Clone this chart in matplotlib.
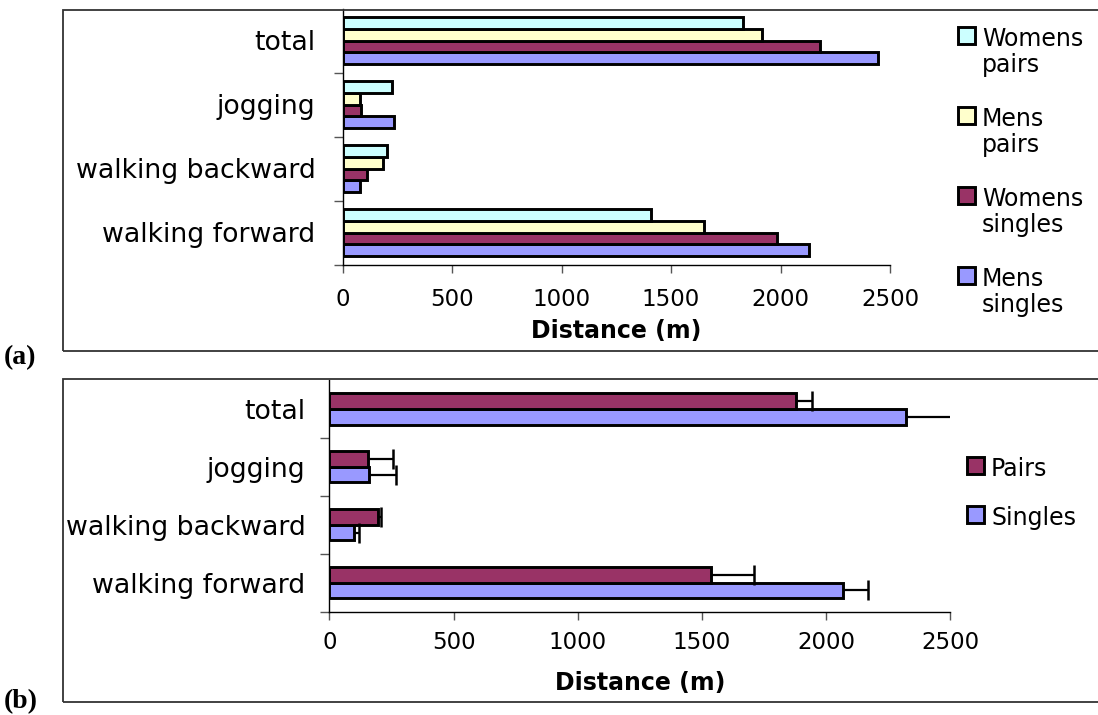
import matplotlib
matplotlib.use('Agg')
import matplotlib.pyplot as plt
import numpy as np
from matplotlib.patches import Rectangle

# categories bottom -> top
CATEGORIES = ['walking forward', 'walking backward', 'jogging', 'total']

# panel (a): distance by group
MENS_SINGLES = [2131, 82, 236, 2444]
WOMENS_SINGLES = [1986, 112, 86, 2180]
MENS_PAIRS = [1652, 187, 80, 1916]
WOMENS_PAIRS = [1408, 204, 226, 1828]

# panel (b): singles vs pairs with (upper) error bars
SINGLES = [2067, 98, 161, 2321]
SINGLES_ERR = [102, 20, 107, 185]
PAIRS = [1535, 198, 156, 1880]
PAIRS_ERR = [173, 12, 101, 62]

X_TICKS = [0, 500, 1000, 1500, 2000, 2500]

W, H = 1098, 715
BLUE = '#9999FF'
PLUM = '#993366'
CREAM = '#FFFFCC'
CYAN = '#CCFFFF'


def px_rect(left, top, right, bottom):
    return [left / W, 1 - bottom / H, (right - left) / W, (bottom - top) / H]


def style_axis(ax, label_pad, label_y, x_pad):
    y = np.arange(len(CATEGORIES))
    ax.set_ylim(-0.5, len(CATEGORIES) - 0.5)
    ax.set_xlim(0, 2500)
    ax.set_yticks(y - 0.5)
    ax.set_yticklabels([])
    ax.set_yticks(y, minor=True)
    ax.set_yticklabels(CATEGORIES, minor=True)
    ax.tick_params(axis='y', which='major', length=6.5, width=1, color='#555555')
    ax.tick_params(axis='y', which='minor', length=0, pad=label_pad, labelsize=19.3)
    ax.set_xticks(X_TICKS)
    ax.tick_params(axis='x', length=6, width=1, color='#555555', pad=x_pad, labelsize=16.5)
    for side in ['top', 'right']:
        ax.spines[side].set_visible(False)
    for side in ['left', 'bottom']:
        ax.spines[side].set_linewidth(1)
    ax.set_xlabel('Distance (m)', fontsize=17, fontweight='bold', va='center')
    ax.xaxis.set_label_coords(0.5, label_y)


def top_align_legend(leg, linespacing):
    for t in leg.get_texts():
        t.set_linespacing(linespacing)
    for col in leg._legend_handle_box.get_children():
        for row in col.get_children():
            row.align = 'top'


def plus_errorbar(ax, vals, ypos, errs):
    ends = np.array(vals) + np.array(errs)
    ax.hlines(ypos, vals, ends, color='black', linewidth=1.6, zorder=3)
    ax.plot(ends, ypos, linestyle='none', marker='|', markersize=14,
            markeredgewidth=1.8, color='black', zorder=3)


fig = plt.figure(figsize=(W / 100, H / 100), dpi=100)

# panel frames
for top, bottom in [(10, 351), (379, 702)]:
    fig.add_artist(Rectangle((63 / W, 1 - bottom / H), 1.2, (bottom - top) / H,
                             transform=fig.transFigure, fill=False,
                             edgecolor='#333333', linewidth=1.3))

# (a)
ax1 = fig.add_axes(px_rect(342.5, 8.5, 890, 264.5))
y = np.arange(len(CATEGORIES))
h = 0.183
series_a = [
    ('Mens\nsingles', MENS_SINGLES, BLUE, -1.5),
    ('Womens\nsingles', WOMENS_SINGLES, PLUM, -0.5),
    ('Mens\npairs', MENS_PAIRS, CREAM, 0.5),
    ('Womens\npairs', WOMENS_PAIRS, CYAN, 1.5),
]
bars_a = []
for label, vals, color, off in series_a:
    b = ax1.barh(y + off * h, vals, height=h, color=color,
                 edgecolor='black', linewidth=2.1, label=label)
    bars_a.append(b)
style_axis(ax1, 19.4, -0.258, 11)
leg1 = ax1.legend(bars_a[::-1], [s[0] for s in series_a[::-1]],
                  loc='upper left', bbox_to_anchor=(958 / W, 1 - 27 / H),
                  bbox_transform=fig.transFigure, frameon=False, fontsize=17,
                  borderpad=0, borderaxespad=0, handlelength=0.72,
                  handleheight=0.72, handletextpad=0.3, labelspacing=1.28)
top_align_legend(leg1, 1.1)

# (b)
ax2 = fig.add_axes(px_rect(329.3, 380, 950.3, 611.5))
h2 = 0.27
bs = ax2.barh(y - h2 / 2, SINGLES, height=h2, color=BLUE,
              edgecolor='black', linewidth=2.1, label='Singles')
bp = ax2.barh(y + h2 / 2, PAIRS, height=h2, color=PLUM,
              edgecolor='black', linewidth=2.1, label='Pairs')
plus_errorbar(ax2, SINGLES, y - h2 / 2, SINGLES_ERR)
plus_errorbar(ax2, PAIRS, y + h2 / 2, PAIRS_ERR)
style_axis(ax2, 17.3, -0.309, 8)
leg2 = ax2.legend([bp, bs], ['Pairs', 'Singles'],
                  loc='upper left', bbox_to_anchor=(967 / W, 1 - 457 / H),
                  bbox_transform=fig.transFigure, frameon=False, fontsize=17,
                  borderpad=0, borderaxespad=0, handlelength=0.72,
                  handleheight=0.72, handletextpad=0.3, labelspacing=1.05)
top_align_legend(leg2, 1.1)

fig.text(4 / W, 1 - 358 / H, '(a)', family='Liberation Serif', fontweight='bold',
         fontsize=20, va='center', ha='left')
fig.text(4 / W, 1 - 702 / H, '(b)', family='Liberation Serif', fontweight='bold',
         fontsize=20, va='center', ha='left')

fig.savefig('out.png', dpi=100)
